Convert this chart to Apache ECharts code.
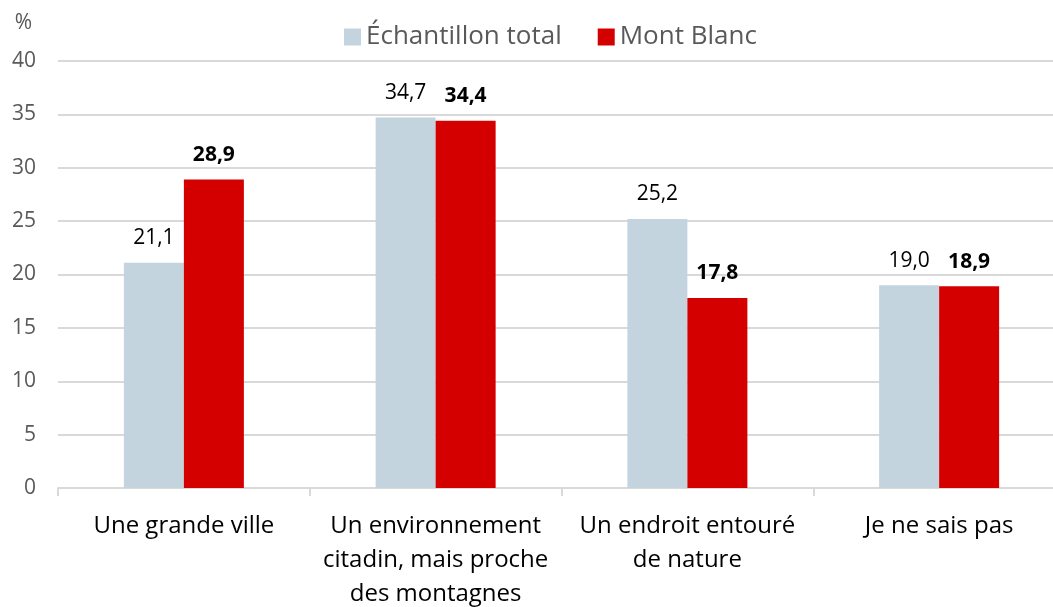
<!DOCTYPE html>
<html>
<head>
<meta charset="utf-8">
<script src="https://cdn.jsdelivr.net/npm/echarts@6/dist/echarts.min.js"></script>
<style>
html,body{margin:0;padding:0;background:#fff;}
#chart{width:1053px;height:607px;}
</style>
</head>
<body>
<div id="chart"></div>
<script>
// categories and values
var categories = ['Une grande ville', 'Un environnement\ncitadin, mais proche\ndes montagnes', 'Un endroit entouré\nde nature', 'Je ne sais pas'];
var seriesNames = ['Échantillon total', 'Mont Blanc'];
var totalValues = [21.1, 34.7, 25.2, 19.0];
var montBlancValues = [28.9, 34.4, 17.8, 18.9];

var font = '"Open Sans", sans-serif';
var myChart = echarts.init(document.getElementById('chart'));

function fmt(p) {
    return p.value.toFixed(1).replace('.', ',');
}

var option = {
    animation: false,
    textStyle: { fontFamily: font },
    grid: { left: 58, width: 1007, top: 61, bottom: 119, outerBoundsMode: 'none', containLabel: false },
    legend: {
        top: 18,
        left: 320,
        icon: 'rect',
        itemWidth: 17,
        itemHeight: 17,
        itemGap: 36,
        backgroundColor: '#fff',
        padding: [6, 24, 6, 24],
        textStyle: { fontSize: 26, color: '#595959', fontFamily: font },
        data: seriesNames
    },
    xAxis: {
        type: 'category',
        data: categories,
        axisLine: { lineStyle: { color: '#d9d9d9', width: 2 } },
        axisTick: { show: true, length: 8, lineStyle: { color: '#d9d9d9', width: 2 } },
        axisLabel: { fontSize: 24, color: '#000', lineHeight: 34, margin: 21, fontFamily: font, interval: 0 }
    },
    yAxis: {
        type: 'value',
        min: 0,
        max: 40,
        interval: 5,
        name: '%',
        nameLocation: 'end',
        nameGap: 27,
        nameTextStyle: { fontSize: 21, color: '#595959', align: 'right', padding: [0, 26, 0, 0] },
        axisLine: { show: false },
        axisTick: { show: false },
        axisLabel: { fontSize: 21, color: '#595959', margin: 22, fontFamily: font },
        splitLine: { lineStyle: { color: '#d9d9d9', width: 2 } }
    },
    series: [
        {
            name: seriesNames[0],
            type: 'bar',
            data: totalValues,
            barWidth: 60,
            barGap: '0%',
            itemStyle: { color: '#c4d4de' },
            label: { show: true, position: 'top', distance: 14, fontSize: 21, color: '#000', formatter: fmt }
        },
        {
            name: seriesNames[1],
            type: 'bar',
            data: montBlancValues,
            barWidth: 60,
            barGap: '0%',
            itemStyle: { color: '#d40000' },
            label: { show: true, position: 'top', distance: 14, fontSize: 21, fontWeight: 'bold', color: '#000', formatter: fmt }
        }
    ]
};
myChart.setOption(option);
</script>
</body>
</html>
